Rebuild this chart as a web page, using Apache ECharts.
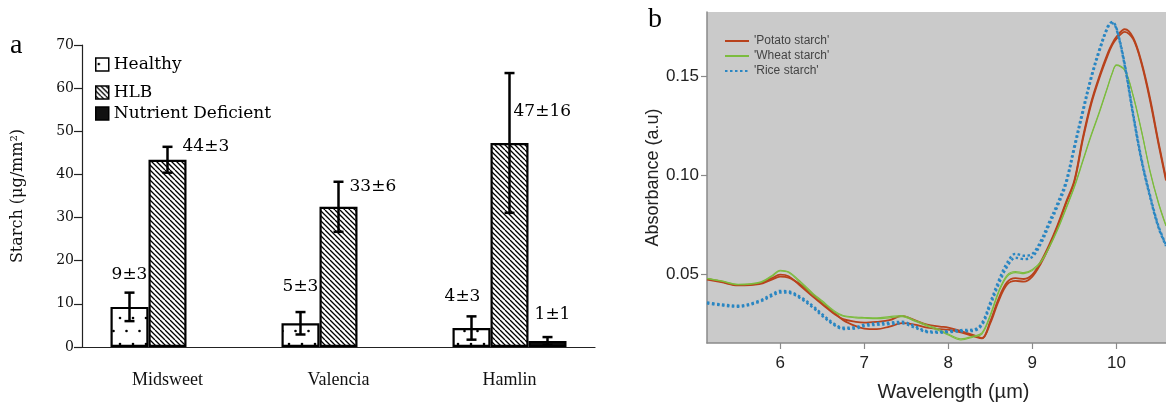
<!DOCTYPE html>
<html><head><meta charset="utf-8">
<script src="https://cdn.jsdelivr.net/npm/echarts@6/dist/echarts.min.js"></script>
<style>html,body{margin:0;padding:0;background:#fff}#c{width:1166px;height:407px}</style>
</head><body><div id="c"></div>
<script>
// ---------- Panel a data ----------
const cultivars = ['Midsweet', 'Valencia', 'Hamlin'];
const barNames = ['Healthy', 'HLB', 'Nutrient Deficient'];
const healthy = [9.3, 5.5, 4.4];
const hlb = [43.4, 32.5, 47.3];
const nutrient = [null, null, 1.4];
const healthyErr = [3.3, 2.6, 2.7];
const hlbErr = [3.0, 5.8, 16.2];
const nutrientErr = [null, null, 0.9];
const healthyLabels = ['9±3', '5±3', '4±3'];
const hlbLabels = ['44±3', '33±6', '47±16'];
const nutrientLabels = ['', '', '1±1'];
const starchTicks = [0, 10, 20, 30, 40, 50, 60, 70];

// ---------- Panel b data ----------
const wavelength = [5.13, 5.3, 5.5, 5.75, 5.9, 6.0, 6.1, 6.25, 6.4, 6.5, 6.65, 6.75, 6.9, 7.0, 7.15, 7.3, 7.45, 7.6, 7.75, 7.9, 8.0, 8.15, 8.3, 8.4, 8.5, 8.6, 8.7, 8.8, 8.9, 9.0, 9.1, 9.2, 9.3, 9.4, 9.5, 9.6, 9.7, 9.8, 9.9, 9.95, 10.0, 10.1, 10.2, 10.3, 10.4, 10.5, 10.59];
const potato1 = [0.0478, 0.0465, 0.0448, 0.0455, 0.0482, 0.0500, 0.0492, 0.0440, 0.0385, 0.0350, 0.0300, 0.0275, 0.0262, 0.0258, 0.0262, 0.0270, 0.0292, 0.0270, 0.0248, 0.0238, 0.0233, 0.0215, 0.0195, 0.0180, 0.0265, 0.0380, 0.0462, 0.0482, 0.0478, 0.0500, 0.0565, 0.0650, 0.0750, 0.0865, 0.0975, 0.1190, 0.1370, 0.1505, 0.1620, 0.1665, 0.1700, 0.1738, 0.1695, 0.1570, 0.1390, 0.1170, 0.0985];
const potato2 = [0.0475, 0.0462, 0.0446, 0.0452, 0.0475, 0.0490, 0.0485, 0.0448, 0.0395, 0.0358, 0.0305, 0.0270, 0.0240, 0.0228, 0.0225, 0.0238, 0.0255, 0.0248, 0.0232, 0.0225, 0.0222, 0.0208, 0.0190, 0.0178, 0.0255, 0.0368, 0.0450, 0.0468, 0.0465, 0.0490, 0.0555, 0.0640, 0.0742, 0.0858, 0.0968, 0.1180, 0.1360, 0.1495, 0.1610, 0.1658, 0.1690, 0.1725, 0.1688, 0.1562, 0.1378, 0.1160, 0.0975];
const wheat1 = [0.0480, 0.0467, 0.0449, 0.0458, 0.0490, 0.0518, 0.0510, 0.0455, 0.0395, 0.0362, 0.0310, 0.0290, 0.0282, 0.0280, 0.0278, 0.0282, 0.0288, 0.0265, 0.0240, 0.0215, 0.0195, 0.0170, 0.0185, 0.0200, 0.0290, 0.0410, 0.0490, 0.0510, 0.0505, 0.0520, 0.0560, 0.0635, 0.0725, 0.0830, 0.0940, 0.1070, 0.1200, 0.1320, 0.1450, 0.1515, 0.1555, 0.1530, 0.1400, 0.1220, 0.1020, 0.0860, 0.0745];
const wheat2 = [0.0482, 0.0469, 0.0451, 0.0461, 0.0494, 0.0522, 0.0514, 0.0462, 0.0402, 0.0368, 0.0316, 0.0294, 0.0286, 0.0284, 0.0282, 0.0288, 0.0294, 0.0270, 0.0246, 0.0222, 0.0200, 0.0176, 0.0190, 0.0206, 0.0298, 0.0418, 0.0498, 0.0516, 0.0510, 0.0526, 0.0566, 0.0640, 0.0730, 0.0836, 0.0946, 0.1076, 0.1206, 0.1326, 0.1455, 0.1518, 0.1558, 0.1533, 0.1403, 0.1224, 0.1024, 0.0864, 0.0748];
const rice1 = [0.0360, 0.0350, 0.0343, 0.0368, 0.0400, 0.0418, 0.0415, 0.0385, 0.0338, 0.0300, 0.0250, 0.0232, 0.0235, 0.0248, 0.0255, 0.0258, 0.0262, 0.0240, 0.0215, 0.0212, 0.0215, 0.0220, 0.0222, 0.0255, 0.0360, 0.0470, 0.0560, 0.0605, 0.0595, 0.0605, 0.0670, 0.0765, 0.0860, 0.0970, 0.1150, 0.1330, 0.1500, 0.1640, 0.1755, 0.1775, 0.1745, 0.1560, 0.1310, 0.1080, 0.0900, 0.0745, 0.0650];
const rice2 = [0.0355, 0.0345, 0.0338, 0.0362, 0.0392, 0.0410, 0.0408, 0.0378, 0.0330, 0.0292, 0.0244, 0.0226, 0.0228, 0.0240, 0.0247, 0.0250, 0.0254, 0.0233, 0.0210, 0.0207, 0.0210, 0.0214, 0.0216, 0.0245, 0.0345, 0.0452, 0.0540, 0.0585, 0.0578, 0.0590, 0.0655, 0.0750, 0.0845, 0.0955, 0.1135, 0.1315, 0.1488, 0.1630, 0.1748, 0.1768, 0.1740, 0.1552, 0.1300, 0.1072, 0.0892, 0.0738, 0.0645];
const wlTicks = [6, 7, 8, 9, 10];
const absTicks = [0.05, 0.10, 0.15];

// ---------- styles ----------
function hatch() {
  const P = 10, c = document.createElement('canvas'); c.width = P; c.height = P;
  const g = c.getContext('2d'); g.fillStyle = '#fff'; g.fillRect(0, 0, P, P);
  g.strokeStyle = '#000'; g.lineWidth = 1.3; g.beginPath();
  [-P, -P / 2, 0, P / 2, P].forEach(k => { g.moveTo(k, 0); g.lineTo(k + P, P); });
  g.stroke(); return c;
}
function dots() {
  const c = document.createElement('canvas'); c.width = 13; c.height = 26;
  const g = c.getContext('2d'); g.fillStyle = '#fff'; g.fillRect(0, 0, 13, 26);
  g.fillStyle = '#000';
  [[3, 6], [9.5, 19]].forEach(p => { g.beginPath(); g.arc(p[0], p[1], 1.3, 0, Math.PI * 2); g.fill(); });
  return c;
}
const fills = [{ image: dots(), repeat: 'repeat' }, { image: hatch(), repeat: 'repeat' }, '#111'];
const BAR_W = 38;
const serif = 'DejaVu Serif';
const times = 'Liberation Serif';
const sans = 'Liberation Sans';
// label placement relative to top of error bar: [dx, dy, align]
const labelPlace = [
  [[0, -18, 'center'], [0, -25, 'center'], [-9, -20, 'center']],
  [[15, 0, 'left'], [11, 5, 'left'], [4, 39, 'left']],
  [[0, -20, 'center'], [0, -20, 'center'], [5, -22, 'center']]
];

const barVals = [healthy, hlb, nutrient];
const barErrs = [healthyErr, hlbErr, nutrientErr];
const barLabels = [healthyLabels, hlbLabels, nutrientLabels];

const barSeries = barNames.map((n, s) => ({
  type: 'bar', name: n, xAxisIndex: 0, yAxisIndex: 0,
  data: barVals[s].map(v => v == null ? '-' : v),
  barWidth: BAR_W, barGap: '0%',
  itemStyle: { color: fills[s], borderColor: '#000', borderWidth: 2.2 },
  z: 2
}));

const errSeries = barNames.map((n, s) => ({
  type: 'custom', xAxisIndex: 0, yAxisIndex: 0, z: 5,
  data: cultivars.map((c, i) => barVals[s][i] == null ? null : [i, barVals[s][i], barErrs[s][i]]).filter(d => d),
  encode: { x: 0, y: 1 },
  renderItem: function (params, api) {
    const i = api.value(0), v = api.value(1), e = api.value(2);
    const cx = api.coord([i, 0])[0] + (s - 1) * BAR_W;
    const top = api.coord([i, v + e])[1];
    const bot = api.coord([i, Math.max(0, v - e)])[1];
    const cap = 5;
    const st = { stroke: '#000', lineWidth: 2.5 };
    const lp = labelPlace[s][i];
    return {
      type: 'group', children: [
        { type: 'line', shape: { x1: cx, y1: top, x2: cx, y2: bot }, style: st },
        { type: 'line', shape: { x1: cx - cap, y1: top, x2: cx + cap, y2: top }, style: st },
        { type: 'line', shape: { x1: cx - cap, y1: bot, x2: cx + cap, y2: bot }, style: st },
        { type: 'text', x: cx + lp[0], y: top + lp[1], style: { text: barLabels[s][i], fill: '#000', font: '17px "' + serif + '"', align: lp[2], verticalAlign: 'middle' } }
      ]
    };
  }
}));

const specColors = { potato: '#b8421c', wheat: '#7cbc3e', rice: '#2a86c2' };
function lineS(name, arr, color, width, type) {
  return {
    type: 'line', name: name, xAxisIndex: 1, yAxisIndex: 1,
    data: wavelength.map((x, i) => [x, arr[i]]),
    smooth: 0.35, symbol: 'none', clip: true,
    lineStyle: { color: color, width: width, type: type },
    itemStyle: { color: color }
  };
}
const specSeries = [
  lineS("'Potato starch'", potato1, specColors.potato, 1.8, 'solid'),
  lineS("'Potato starch'", potato2, specColors.potato, 1.8, 'solid'),
  lineS("'Wheat starch'", wheat1, specColors.wheat, 1.1, 'solid'),
  lineS("'Wheat starch'", wheat2, specColors.wheat, 1.1, 'solid'),
  lineS("'Rice starch'", rice1, specColors.rice, 2.4, [2.5, 2.5]),
  lineS("'Rice starch'", rice2, specColors.rice, 2.4, [2.5, 2.5])
];

const legendTops = [51, 79, 100];
const legA = barNames.map((n, s) => ({
  data: [n], left: 90, top: legendTops[s], orient: 'vertical',
  icon: 'rect', itemWidth: 13, itemHeight: 13, itemGap: 4,
  itemStyle: { borderColor: '#000', borderWidth: 1.5 },
  textStyle: { fontFamily: serif, fontSize: 17, color: '#000' },
  selectedMode: false
}));
const legB = {
  data: ["'Potato starch'", "'Wheat starch'", "'Rice starch'"],
  left: 719, top: 30, orient: 'vertical', itemWidth: 24, itemHeight: 8, itemGap: 3,
  itemStyle: { opacity: 0 },
  textStyle: { fontFamily: sans, fontSize: 12, color: '#444' }, selectedMode: false
};

const chart = echarts.init(document.getElementById('c'), null, { renderer: 'canvas' });
chart.setOption({
  animation: false,
  backgroundColor: '#fff',
  graphic: [
    { type: 'text', left: 10, top: 32, style: { text: 'a', font: '28px "' + times + '"', fill: '#000' } },
    { type: 'text', left: 648, top: 6, style: { text: 'b', font: '28px "' + times + '"', fill: '#000' } }
  ],
  legend: legA.concat([legB]),
  grid: [
    { left: 82, right: 571, top: 45, bottom: 60 },
    { left: 707, right: 0, top: 12, bottom: 61, show: true, backgroundColor: '#cacaca', borderWidth: 0 }
  ],
  xAxis: [
    {
      type: 'category', gridIndex: 0, data: cultivars,
      axisLine: { lineStyle: { color: '#222', width: 1.2 } },
      axisTick: { length: 10, lineStyle: { color: '#222', width: 1.2 } },
      axisLabel: { fontFamily: times, fontSize: 18, color: '#111', margin: 24 }
    },
    {
      type: 'value', gridIndex: 1, min: 5.13, max: 10.59,
      splitLine: { show: false },
      axisLine: { lineStyle: { color: '#8a8a8a', width: 1.5 } },
      axisTick: { length: 6, customValues: wlTicks, lineStyle: { color: '#8a8a8a', width: 1.2 } },
      axisLabel: { customValues: wlTicks, fontFamily: sans, fontSize: 17, color: '#222', margin: 12 },
      name: 'Wavelength (µm)', nameLocation: 'middle', nameGap: 39,
      nameTextStyle: { fontFamily: sans, fontSize: 20, color: '#222', padding: [0, 0, 0, 34] }
    }
  ],
  yAxis: [
    {
      type: 'value', gridIndex: 0, min: 0, max: 70, interval: 10,
      splitLine: { show: false },
      axisLine: { show: true, lineStyle: { color: '#222', width: 1.2 } },
      axisTick: { show: true, length: 8, customValues: starchTicks, lineStyle: { color: '#222', width: 1.2 } },
      axisLabel: { customValues: starchTicks, fontFamily: serif, fontSize: 14, color: '#111', margin: 8 },
      name: 'Starch (μg/mm²)', nameLocation: 'middle', nameGap: 56, nameRotate: 90,
      nameTextStyle: { fontFamily: serif, fontSize: 16, color: '#111' }
    },
    {
      type: 'value', gridIndex: 1, min: 0.0155, max: 0.1825,
      splitLine: { show: false },
      axisLine: { show: true, lineStyle: { color: '#8a8a8a', width: 1.5 } },
      axisTick: { show: true, length: 6, customValues: absTicks, lineStyle: { color: '#8a8a8a', width: 1.2 } },
      axisLabel: { customValues: absTicks, formatter: v => v.toFixed(2), fontFamily: sans, fontSize: 17, color: '#222', margin: 8 },
      name: 'Absorbance (a.u)', nameLocation: 'middle', nameGap: 45, nameRotate: 90,
      nameTextStyle: { fontFamily: sans, fontSize: 18, color: '#222' }
    }
  ],
  series: barSeries.concat(errSeries, specSeries)
});
</script></body></html>
